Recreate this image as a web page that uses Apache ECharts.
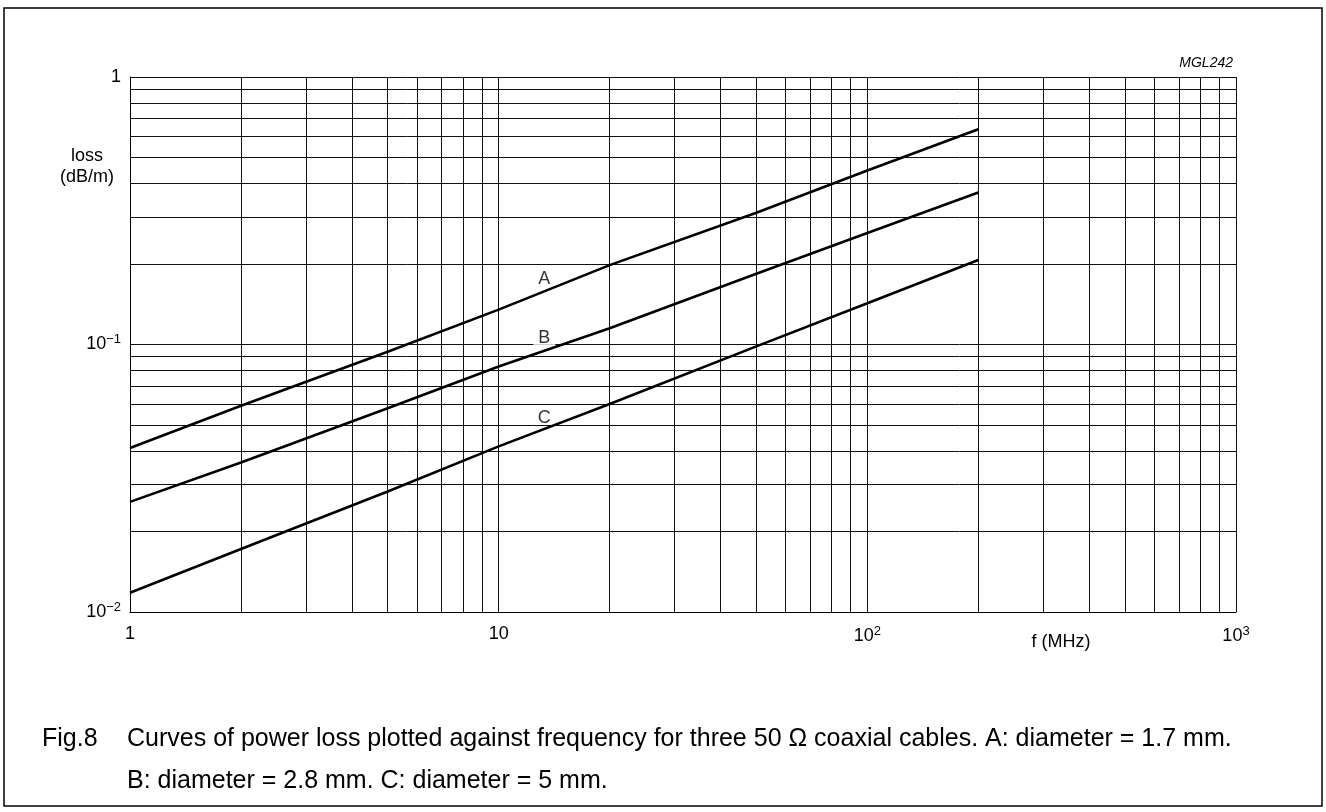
<!DOCTYPE html>
<html>
<head>
<meta charset="utf-8">
<script src="https://cdn.jsdelivr.net/npm/echarts@6/dist/echarts.min.js"></script>
<style>
html,body{margin:0;padding:0;background:#fff;}
#chart{width:1326px;height:812px;}
</style>
</head>
<body>
<div id="chart"></div>
<script>
// ---- data ----
const freq = [1, 2, 5, 10, 20, 50, 100, 200];
const lossA = [0.041, 0.059, 0.094, 0.135, 0.198, 0.311, 0.447, 0.638];
const lossB = [0.0258, 0.0362, 0.0578, 0.0828, 0.115, 0.184, 0.261, 0.370];
const lossC = [0.0118, 0.0172, 0.0282, 0.0416, 0.0599, 0.0984, 0.1426, 0.207];
const curveNames = ['A', 'B', 'C'];
const curveLabelPos = [[13.3, 0.175], [13.3, 0.106], [13.3, 0.053]];
const xTickValues = [1, 10, 100, 1000];
const xTickLabels = ['1', '10', '10|2', '10|3'];
const yTickValues = [0.01, 0.1, 1];
const yTickLabels = ['10|\u22122', '10|\u22121', '1'];
const xMinorGrid = [2,3,4,5,6,7,8,9,20,30,40,50,60,70,80,90,200,300,400,500,600,700,800,900];
const yMinorGrid = [0.02,0.03,0.04,0.05,0.06,0.07,0.08,0.09,0.2,0.3,0.4,0.5,0.6,0.7,0.8,0.9];
const captionFig = 'Fig.8';
const captionText = 'Curves of power loss plotted against frequency for three 50 \u03A9 coaxial cables. A: diameter = 1.7 mm.\nB: diameter = 2.8 mm. C: diameter = 5 mm.';
const drawingCode = 'MGL242';

const FONT = '"Liberation Sans", Arial, sans-serif';

function tickFmt(values, labels) {
  return function (v) {
    for (let i = 0; i < values.length; i++) {
      if (Math.abs(Math.log10(v) - Math.log10(values[i])) < 1e-6) {
        const p = labels[i].split('|');
        return p.length > 1 ? '{b|' + p[0] + '}{s|' + p[1] + '}' : '{b|' + p[0] + '}';
      }
    }
    return '';
  };
}
const richTicks = {
  b: {fontSize: 18, fontFamily: FONT, color: '#000'},
  s: {fontSize: 13, fontFamily: FONT, color: '#000', padding: [0, 0, 10, 0]}
};

const chart = echarts.init(document.getElementById('chart'), null, {renderer: 'canvas'});
const gridStyle = {color: '#111', width: 1, type: 'solid'};
const curveSeries = [lossA, lossB, lossC].map((vals, i) => ({
  name: curveNames[i],
  type: 'line',
  data: freq.map((f, j) => [f, vals[j]]),
  showSymbol: false,
  symbol: 'none',
  lineStyle: {color: '#000', width: 2.6},
  z: 5,
  silent: true
}));

chart.setOption({
  backgroundColor: '#fff',
  animation: false,
  grid: {left: 130, top: 77, right: 90, bottom: 200, containLabel: false},
  xAxis: {
    type: 'log', logBase: 10, min: 1, max: 1000,
    axisLine: {show: true, lineStyle: {color: '#000', width: 1}},
    axisTick: {show: false},
    splitLine: {show: true, lineStyle: gridStyle},
    axisLabel: {margin: 13, formatter: tickFmt(xTickValues, xTickLabels), rich: richTicks}
  },
  yAxis: {
    type: 'log', logBase: 10, min: 0.01, max: 1,
    axisLine: {show: true, lineStyle: {color: '#000', width: 1}},
    axisTick: {show: false},
    splitLine: {show: true, lineStyle: gridStyle},
    axisLabel: {margin: 9, formatter: tickFmt(yTickValues, yTickLabels), rich: richTicks}
  },
  series: [
    {
      type: 'line', data: [], silent: true, z: 1,
      markLine: {
        silent: true, symbol: ['none', 'none'], animation: false,
        label: {show: false},
        lineStyle: gridStyle,
        data: xMinorGrid.map(v => ({xAxis: v})).concat(yMinorGrid.map(v => ({yAxis: v})))
      }
    },
    ...curveSeries,
    {
      type: 'scatter', symbolSize: 0, silent: true, z: 4,
      data: curveLabelPos.map((p, i) => ({value: p, name: curveNames[i]})),
      label: {
        show: true, position: 'inside', formatter: '{b}',
        fontSize: 18, lineHeight: 16, fontFamily: FONT, color: '#000',
        backgroundColor: '#fff', padding: [0, 5, 0, 5]
      }
    }
  ],
  graphic: [
    {type: 'rect', shape: {x: 4, y: 8, width: 1318, height: 798}, style: {fill: 'none', stroke: '#000', lineWidth: 1.5}, z: 100, silent: true},
    {type: 'text', x: 87, y: 156, style: {text: 'loss\n(dB/m)', fontSize: 18, fontFamily: FONT, fill: '#000', align: 'center', verticalAlign: 'top', lineHeight: 21, y: -10}, silent: true},
    {type: 'text', x: 1233, y: 63, style: {text: drawingCode, fontSize: 14, fontStyle: 'italic', fontFamily: FONT, fill: '#000', align: 'right', verticalAlign: 'middle'}, silent: true},
    {type: 'text', x: 1061, y: 642, style: {text: 'f (MHz)', fontSize: 18, fontFamily: FONT, fill: '#000', align: 'center', verticalAlign: 'middle'}, silent: true},
    {type: 'text', x: 42, y: 739, style: {text: captionFig, fontSize: 25, fontFamily: FONT, fill: '#000', verticalAlign: 'middle'}, silent: true},
    {type: 'text', x: 127, y: 718, style: {text: captionText, fontSize: 25, fontFamily: FONT, fill: '#000', verticalAlign: 'top', lineHeight: 42}, silent: true}
  ]
});
</script>
</body>
</html>
